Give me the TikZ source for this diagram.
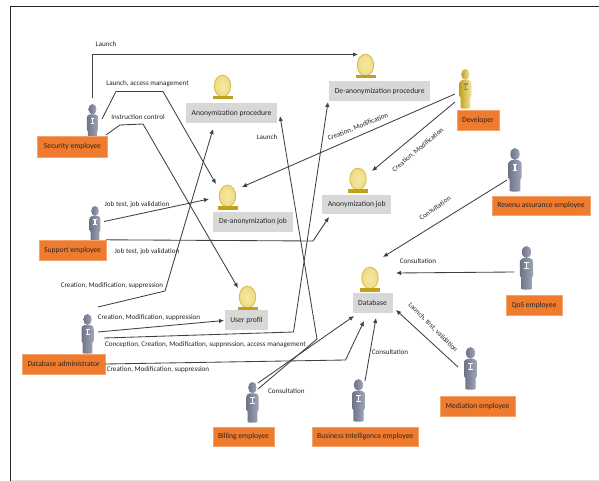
\documentclass[tikz,border=0pt]{standalone}
\usepackage{fontspec}
\setmainfont{Carlito}
\usetikzlibrary{arrows.meta}
\definecolor{orangebox}{HTML}{EE7B2E}
\definecolor{graybox}{HTML}{D8D8D8}
\definecolor{linecol}{HTML}{404040}
\definecolor{txt}{HTML}{262626}
\definecolor{golda}{HTML}{F6E8A0}
\definecolor{goldb}{HTML}{D9BE4A}
\definecolor{goldbar}{HTML}{BFA11C}
\definecolor{persa}{HTML}{6E7488}
\definecolor{persb}{HTML}{A0A5B8}
\tikzset{
  rolebox/.style={fill=orangebox,draw=orangebox!70!white,line width=.3pt,inner sep=0pt,text=black!85,font=\fontsize{7.6}{9}\selectfont,anchor=center},
  itembox/.style={fill=graybox,inner sep=0pt,text=txt,font=\fontsize{7.6}{9}\selectfont,anchor=center},
  lab/.style={text=txt,font=\fontsize{7.1}{8}\selectfont,inner sep=0pt,anchor=center},
  conn/.style={draw=linecol,line width=.85pt,-{Latex[length=5pt,width=4.5pt]}},
}
% name, x centre, top y, height, left colour, right colour, logo colour
\newcommand{\personfig}[7]{%
  \begin{scope}[shift={(#2,#3)},x=#4pt/40,y=-#4pt/40]
    \shade[left color=#5,right color=#6]
      (-3,11) .. controls (-5.5,11.5) and (-6,13) .. (-6,15) -- (-6,27)
      -- (-4.8,29) -- (-4.8,39) .. controls (-3,40) and (3,40) .. (4.8,39) -- (4.8,29)
      -- (6,27) -- (6,15) .. controls (6,13) and (5.5,11.5) .. (3,11) -- cycle;
    \shade[left color=#5,right color=#6] (0,5.5) ellipse (4.2 and 5.5);
    \fill[#7] (-2,14.5) rectangle (2,15.6);
    \fill[#7] (-.8,15.6) rectangle (.8,20);
    \fill[#7] (-2,20) rectangle (2,21.1);
    \coordinate (#1) at (0,20);
  \end{scope}}
% name, x centre, ellipse centre y
\newcommand{\goldfig}[3]{%
  \shade[inner color=golda,outer color=golda!70!goldb,draw=goldb,line width=.9pt] (#2,#3) ellipse (8.2 and 10.8);
  \fill[goldbar] ({#2-10},{#3+10}) rectangle ({#2+10},{#3+13.5});
  \coordinate (#1) at (#2,#3);}
\begin{document}
\begin{tikzpicture}[x=1pt,y=-1pt]
\useasboundingbox (0,0) rectangle (599,481);
\fill[white] (0,0) rectangle (599,481);
\draw[black!85,line width=.9pt] (10.5,481) -- (10.5,6) -- (599,6);
\draw[black!12,line width=.7pt] (10.5,480) -- (599,480);

% item icons
\goldfig{gAP}{222.5}{86}
\goldfig{gDP}{365.5}{65}
\goldfig{gDJ}{227.5}{196}
\goldfig{gAJ}{358}{179}
\goldfig{gUP}{247.5}{297}
\goldfig{gDB}{370}{278}

% persons
\personfig{pSec}{92.5}{104}{38}{persa}{persb}{white}
\personfig{pSup}{95}{206}{36}{persa}{persb}{white}
\personfig{pDBA}{87.5}{314}{40}{persa}{persb}{white}
\personfig{pBil}{252.5}{382}{41}{persa}{persb}{white}
\personfig{pBI}{358.5}{379}{43}{persa}{persb}{white}
\personfig{pMed}{470.5}{347}{43}{persa}{persb}{white}
\personfig{pQoS}{526.5}{246}{44}{persa}{persb}{white}
\personfig{pRev}{515}{148}{44}{persa}{persb}{white}
\personfig{pDev}{465.5}{69}{40}{goldbar}{golda}{black!45}

% orange boxes
\node[rolebox,minimum width=70pt,minimum height=21pt] (sec) at (72.5,146.5) {Security employee};
\node[rolebox,minimum width=67pt,minimum height=20.5pt] (sup) at (72.5,250.2) {Support employee};
\node[rolebox,minimum width=82.5pt,minimum height=20pt] (dba) at (63.7,364) {Database administrator};
\node[rolebox,minimum width=61pt,minimum height=19pt] (bil) at (243.5,436.7) {Billing employee};
\node[rolebox,minimum width=106.5pt,minimum height=19pt] (bi) at (365.2,436.7) {Business Intelligence employee};
\node[rolebox,minimum width=75pt,minimum height=20pt] (med) at (477.5,406) {Mediation employee};
\node[rolebox,minimum width=56pt,minimum height=20pt] (qos) at (534,305) {QoS employee};
\node[rolebox,minimum width=98pt,minimum height=19pt] (rev) at (541,205.5) {Revenu assurance employee};
\node[rolebox,minimum width=42pt,minimum height=20pt] (dev) at (478,120) {Developer};

% grey boxes
\node[itembox,minimum width=91pt,minimum height=20pt] (ap) at (231.5,113) {Anonymization procedure};
\node[itembox,minimum width=100.5pt,minimum height=20pt] (dp) at (379.7,91) {De-anonymization procedure};
\node[itembox,minimum width=80pt,minimum height=20pt] (dj) at (253,222) {De-anonymization job};
\node[itembox,minimum width=68.5pt,minimum height=19pt] (aj) at (356.7,204.5) {Anonymization job};
\node[itembox,minimum width=43pt,minimum height=20pt] (up) at (246.5,320) {User profil};
\node[itembox,minimum width=40pt,minimum height=20pt] (db) at (372.5,303) {Database};

% connector ends
\coordinate (a1) at (92.5,98);      \coordinate (a1b) at (92.5,54.5);   \coordinate (a1e) at (358,54.5);
\coordinate (a2) at (102,119);      \coordinate (a2b) at (116,91.5);    \coordinate (a2c) at (163,91.5);   \coordinate (a2e) at (216,184);
\coordinate (a3) at (106,135);      \coordinate (a3b) at (120,125);     \coordinate (a3c) at (143,124);    \coordinate (a3e) at (238,288);
\coordinate (a4) at (104,221.5);    \coordinate (a4e) at (209,199);
\coordinate (a5b) at (313,241);     \coordinate (a5e) at (329,217);
\coordinate (a6) at (98,307);       \coordinate (a6b) at (165,291);     \coordinate (a6e) at (213,129);
\coordinate (a7) at (98,332);       \coordinate (a7e) at (224,320.5);
\coordinate (a8) at (104,338);      \coordinate (a8b) at (293.5,332);   \coordinate (a8e) at (328,102);
\coordinate (a9b) at (345.5,360);   \coordinate (a9e) at (364,321);
\coordinate (b1) at (258,383);      \coordinate (b1e) at (354,316);
\coordinate (b2) at (258,389);      \coordinate (b2b) at (317,339);     \coordinate (b2e) at (280,116);
\coordinate (c1) at (365,381);      \coordinate (c1e) at (376,318);
\coordinate (c2) at (458,367);      \coordinate (c2e) at (396,310);
\coordinate (c3) at (514,272);      \coordinate (c3e) at (396,273);
\coordinate (c4) at (507,180);      \coordinate (c4e) at (383,257);
\coordinate (d1) at (455,94);       \coordinate (d1e) at (242,187);
\coordinate (d2) at (455,102);      \coordinate (d2e) at (372,171);

% connectors
\draw[conn] (a1) -- (a1b) -- (a1e);
\draw[conn] (a2) -- (a2b) -- (a2c) -- (a2e);
\draw[conn] (a3) -- (a3b) -- (a3c) -- (a3e);
\draw[conn] (a4) -- (a4e);
\draw[conn] (sup.north east) -- (a5b) -- (a5e);
\draw[conn] (a6) -- (a6b) -- (a6e);
\draw[conn] (a7) -- (a7e);
\draw[conn] (a8) -- (a8b) -- (a8e);
\draw[conn] (dba.east) -- (a9b) -- (a9e);
\draw[conn] (b1) -- (b1e);
\draw[conn] (b2) -- (b2b) -- (b2e);
\draw[conn] (c1) -- (c1e);
\draw[conn] (c2) -- (c2e);
\draw[conn] (c3) -- (c3e);
\draw[conn] (c4) -- (c4e);
\draw[conn] (d1) -- (d1e);
\draw[conn] (d2) -- (d2e);

% labels
\node[lab] (l1) at (106,44.5) {Launch};
\node[lab] (l2) at (147.5,83.5) {Launch, access management};
\node[lab] (l3) at (138,117) {Instruction control};
\node[lab] (l4) at (137,204.5) {Job test, job validation};
\node[lab] (l5) at (147,252) {Job test, job validation};
\node[lab] (l6) at (112,286) {Creation, Modification, suppression};
\node[lab] (l7) at (149,317.5) {Creation, Modification, suppression};
\node[lab,anchor=west] (l8) at (105,344.5) {Conception, Creation, Modification, suppression, access management};
\node[lab] (l9) at (158,370) {Creation, Modification, suppression};
\node[lab] (l10) at (267,137) {Launch};
\node[lab,anchor=west] (l11) at (268,391) {Consultation};
\node[lab] (l12) at (390,352) {Consultation};
\node[lab,rotate=-45] (l13) at (433,327.5) {Launch, test, validation};
\node[lab] (l14) at (418,261) {Consultation};
\node[lab,rotate=35] (l15) at (435,208) {Consultation};
\node[lab,rotate=22] (l16) at (358,127) {Creation, Modification};
\node[lab,rotate=40] (l17) at (418,150) {Creation, Modification};
\end{tikzpicture}
\end{document}
